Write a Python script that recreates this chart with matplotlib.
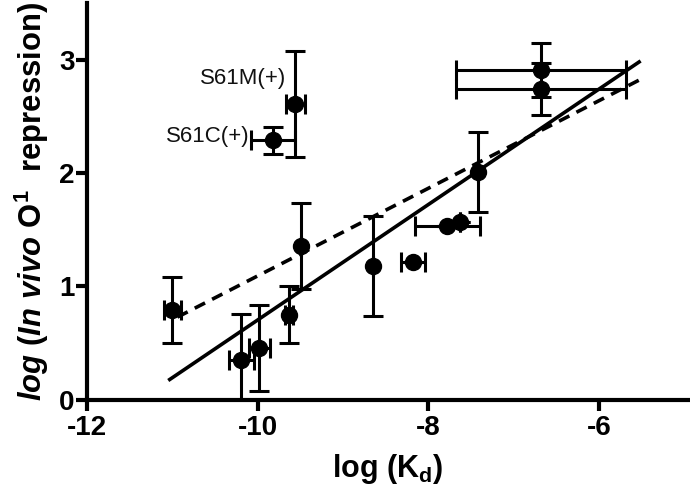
import numpy as np
import matplotlib
matplotlib.use('Agg')
import matplotlib.pyplot as plt

plt.rcParams['font.family'] = ['Liberation Sans', 'DejaVu Sans']
plt.rcParams['axes.unicode_minus'] = False
plt.rcParams['mathtext.fontset'] = 'custom'
plt.rcParams['mathtext.rm'] = 'Liberation Sans:bold'
plt.rcParams['mathtext.bf'] = 'Liberation Sans:bold'
plt.rcParams['mathtext.it'] = 'Liberation Sans:italic:bold'

# main data set: log(Kd) vs log(in vivo O1 repression)
kd = [-11.00, -10.19, -9.98, -9.63, -9.49, -8.65, -8.18, -7.78, -7.63, -7.42, -6.68, -6.68]
rep = [0.79, 0.35, 0.46, 0.75, 1.36, 1.18, 1.22, 1.53, 1.57, 2.01, 2.91, 2.74]
rep_err = [0.29, 0.41, 0.38, 0.25, 0.38, 0.44, 0.0, 0.0, 0.0, 0.35, 0.24, 0.23]
kd_err = [0.10, 0.15, 0.12, 0.05, 0.0, 0.0, 0.14, 0.38, 0.0, 0.0, 1.00, 1.00]

# outliers (labelled)
out_names = ['S61M(+)', 'S61C(+)']
out_kd = [-9.56, -9.82]
out_rep = [2.61, 2.29]
out_rep_err = [0.47, 0.12]
out_kd_err = [0.11, 0.26]

# regression lines (end points)
solid_x = [-11.03, -5.53]
solid_y = [0.18, 2.98]
dash_x = [-10.94, -5.53]
dash_y = [0.73, 2.82]

fig = plt.figure(figsize=(6.9, 4.98), dpi=100)
ax = fig.add_axes([0.126, 0.197, 0.872, 0.797])

eb = dict(fmt='o', color='black', ms=11.5, elinewidth=2.2, capsize=7, capthick=2.2)
ax.errorbar(kd, rep, yerr=rep_err, xerr=kd_err, **eb)
ax.errorbar(out_kd, out_rep, yerr=out_rep_err, xerr=out_kd_err, **eb)

ax.plot(solid_x, solid_y, '-', color='black', lw=2.6)
ax.plot(dash_x, dash_y, color='black', lw=2.6, linestyle=(0, (3.2, 2.2)))

ax.text(out_kd[0] - 0.11, out_rep[0] + 0.22, out_names[0], ha='right', va='center',
        fontsize=16, color='#111111')
ax.text(out_kd[1] - 0.28, out_rep[1] + 0.03, out_names[1], ha='right', va='center',
        fontsize=16, color='#111111')

ax.set_xlim(-12, -4.95)
ax.set_ylim(0, 3.5)
ax.set_xticks([-12, -10, -8, -6])
ax.set_yticks([0, 1, 2, 3])
for s in ['top', 'right']:
    ax.spines[s].set_visible(False)
for s in ['left', 'bottom']:
    ax.spines[s].set_linewidth(3)
ax.tick_params(direction='out', length=8, width=3, labelsize=20, pad=3)
for lab in ax.get_xticklabels() + ax.get_yticklabels():
    lab.set_fontweight('bold')
ax.tick_params(axis='y', pad=1)

ax.set_xlabel(r'log (K$_\mathrm{d}$)', fontsize=22, fontweight='bold', labelpad=8)
ax.set_ylabel(r'$\mathit{log\ (In\ vivo}\ \mathrm{O^1\ \ repression)}$', fontsize=22.3, labelpad=6)

fig.savefig('out.png', dpi=100)
